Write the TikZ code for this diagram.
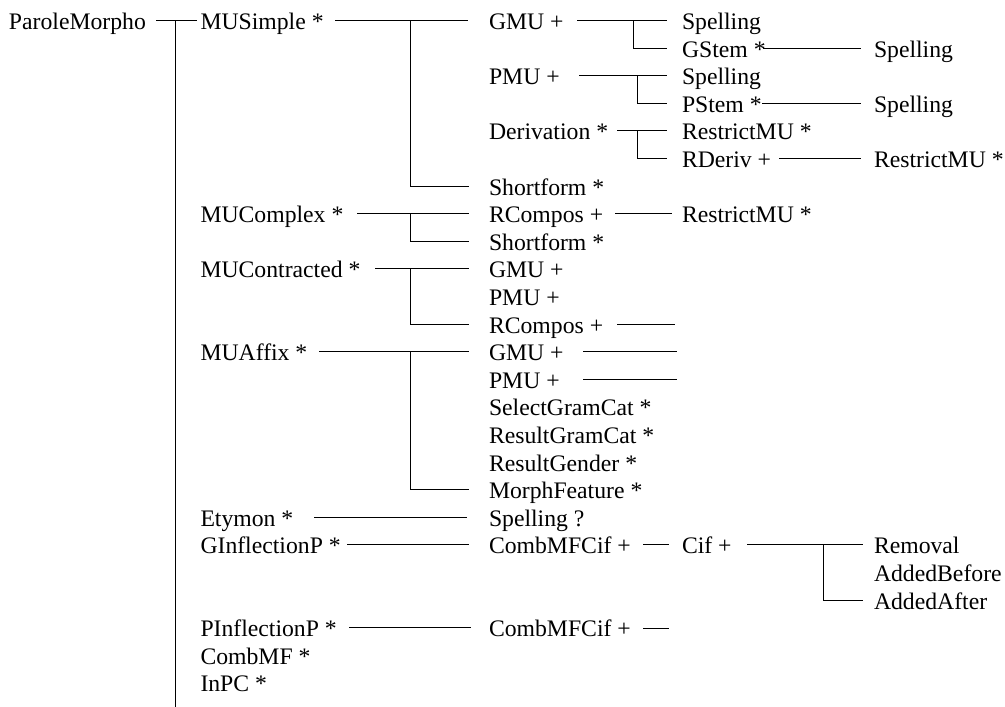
\documentclass[tikz,border=0pt]{standalone}
\usepackage{fontspec}
\setmainfont{Liberation Serif}
\begin{document}
\begin{tikzpicture}[x=1pt,y=-1pt,
  lbl/.style={anchor=west,inner sep=0pt,outer sep=0pt,
    text height=20pt,text depth=2pt,font=\fontsize{23.7}{28}\selectfont},
  link/.style={line width=0.9pt,black}]
\useasboundingbox (0,0) rectangle (1005,707);

% ---- labels, one row every 27.6pt ----
\node[lbl] (root) at (9,20.5)    {ParoleMorpho};

\node[lbl] (ms)   at (200.5,20.5)  {MUSimple *};
\node[lbl] (mc)   at (200.5,213.7) {MUComplex *};
\node[lbl] (mt)   at (200.5,268.9) {MUContracted *};
\node[lbl] (ma)   at (200.5,351.7) {MUAffix *};
\node[lbl] (ety)  at (200.5,517.3) {Etymon *};
\node[lbl] (gip)  at (200.5,544.9) {GInflectionP *};
\node[lbl] (pip)  at (200.5,627.7) {PInflectionP *};
\node[lbl] (cmf)  at (200.5,655.3) {CombMF *};
\node[lbl] (inpc) at (200.5,682.9) {InPC *};

\node[lbl] (gmu1) at (489,20.5)  {GMU +};
\node[lbl] (pmu1) at (489,75.7)  {PMU +};
\node[lbl] (der)  at (489,130.9) {Derivation *};
\node[lbl] (sf1)  at (489,186.1) {Shortform *};
\node[lbl] (rc1)  at (489,213.7) {RCompos +};
\node[lbl] (sf2)  at (489,241.3) {Shortform *};
\node[lbl] (gmu2) at (489,268.9) {GMU +};
\node[lbl] (pmu2) at (489,296.5) {PMU +};
\node[lbl] (rc2)  at (489,324.1) {RCompos +};
\node[lbl] (gmu3) at (489,351.7) {GMU +};
\node[lbl] (pmu3) at (489,379.3) {PMU +};
\node[lbl] (sgc)  at (489,406.9) {SelectGramCat *};
\node[lbl] (rgc)  at (489,434.5) {ResultGramCat *};
\node[lbl] (rg)   at (489,462.1) {ResultGender *};
\node[lbl] (mf)   at (489,489.7) {MorphFeature *};
\node[lbl] (sp5)  at (489,517.3) {Spelling ?};
\node[lbl] (cc1)  at (489,544.9) {CombMFCif +};
\node[lbl] (cc2)  at (489,627.7) {CombMFCif +};

\node[lbl] (sp1)  at (682,20.5)  {Spelling};
\node[lbl] (gst)  at (682,48.1)  {GStem *};
\node[lbl] (sp2)  at (682,75.7)  {Spelling};
\node[lbl] (pst)  at (682,103.3) {PStem *};
\node[lbl] (rmu1) at (682,130.9) {RestrictMU *};
\node[lbl] (rd)   at (682,158.5) {RDeriv +};
\node[lbl] (rmu3) at (682,213.7) {RestrictMU *};
\node[lbl] (cif)  at (682,544.9) {Cif +};

\node[lbl] (sp3)  at (874,48.1)  {Spelling};
\node[lbl] (sp4)  at (874,103.3) {Spelling};
\node[lbl] (rmu2) at (874,158.5) {RestrictMU *};
\node[lbl] (rem)  at (874,544.9) {Removal};
\node[lbl] (ab)   at (874,572.5) {AddedBefore};
\node[lbl] (aa)   at (874,600.1) {AddedAfter};

\coordinate (rootend) at (175,707);

% ---- connectors ----
\draw[link] (root.west -| 156,0) -- (root.west -| 197,0);
\draw[link] (root.west -| 175,0) -- (rootend);

\draw[link] (ms.west -| 335,0) -- (gmu1.west -| 468,0);
\draw[link] (ms.west -| 410,0) |- (sf1.west -| 469,0);

\draw[link] (gmu1.west -| 577,0) -- (sp1.west -| 667,0);
\draw[link] (gmu1.west -| 633,0) |- (gst.west -| 667,0);
\draw[link] (gst.west -| 763,0) -- (sp3.west -| 861,0);

\draw[link] (pmu1.west -| 579,0) -- (sp2.west -| 667,0);
\draw[link] (pmu1.west -| 637,0) |- (pst.west -| 667,0);
\draw[link] (pst.west -| 762,0) -- (sp4.west -| 861,0);

\draw[link] (der.west -| 617,0) -- (rmu1.west -| 667,0);
\draw[link] (der.west -| 637,0) |- (rd.west -| 667,0);
\draw[link] (rd.west -| 779,0) -- (rmu2.west -| 861,0);

\draw[link] (mc.west -| 357,0) -- (rc1.west -| 469,0);
\draw[link] (mc.west -| 410,0) |- (sf2.west -| 469,0);
\draw[link] (rc1.west -| 615,0) -- (rmu3.west -| 672,0);

\draw[link] (mt.west -| 375,0) -- (gmu2.west -| 469,0);
\draw[link] (mt.west -| 410,0) |- (rc2.west -| 469,0);
\draw[link] (rc2.west -| 617,0) -- (rc2.west -| 675,0);

\draw[link] (ma.west -| 319,0) -- (gmu3.west -| 469,0);
\draw[link] (ma.west -| 410,0) |- (mf.west -| 469,0);
\draw[link] (gmu3.west -| 583,0) -- (gmu3.west -| 677,0);
\draw[link] (pmu3.west -| 583,0) -- (pmu3.west -| 677,0);

\draw[link] (ety.west -| 314,0) -- (sp5.west -| 467,0);

\draw[link] (gip.west -| 347,0) -- (cc1.west -| 469,0);
\draw[link] (cc1.west -| 643,0) -- (cif.west -| 669,0);
\draw[link] (cif.west -| 747,0) -- (rem.west -| 863,0);
\draw[link] (cif.west -| 823,0) |- (aa.west -| 863,0);

\draw[link] (pip.west -| 349,0) -- (cc2.west -| 471,0);
\draw[link] ([yshift=-1pt]cc2.west -| 643,0) -- ([yshift=-1pt]cc2.west -| 669,0);
\end{tikzpicture}
\end{document}
